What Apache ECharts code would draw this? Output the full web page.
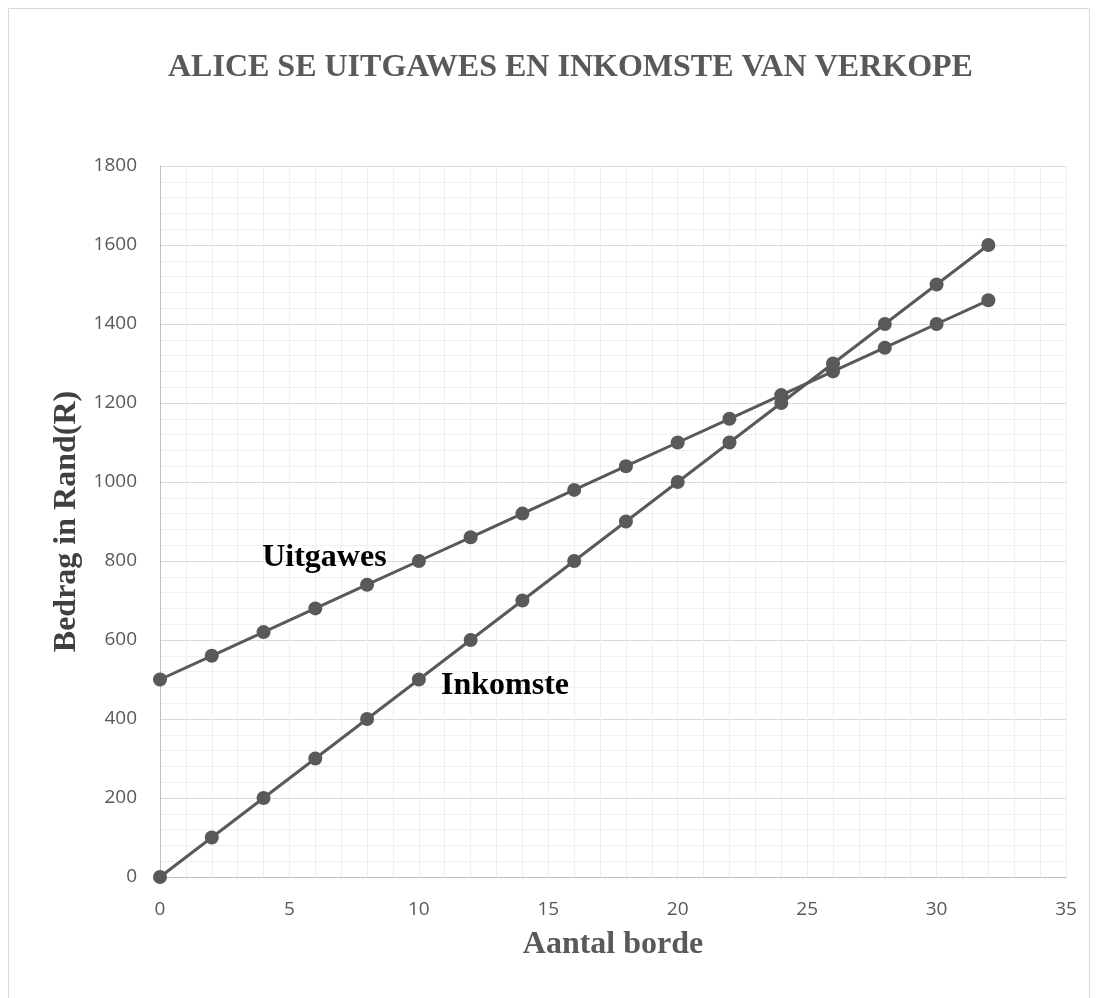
<!DOCTYPE html>
<html>
<head>
<meta charset="utf-8">
<script src="https://cdn.jsdelivr.net/npm/echarts@6/dist/echarts.min.js"></script>
<style>
html, body { margin: 0; padding: 0; background: #fff; }
#chart { width: 1097px; height: 998px; }
</style>
</head>
<body>
<div id="chart"></div>
<script>
// aantal borde (x) en bedrae in rand
const borde = [0, 2, 4, 6, 8, 10, 12, 14, 16, 18, 20, 22, 24, 26, 28, 30, 32];
const uitgawes = [500, 560, 620, 680, 740, 800, 860, 920, 980, 1040, 1100, 1160, 1220, 1280, 1340, 1400, 1460];
const inkomste = [0, 100, 200, 300, 400, 500, 600, 700, 800, 900, 1000, 1100, 1200, 1300, 1400, 1500, 1600];

const lineColor = '#595959';
const serif = '"Liberation Serif", "Times New Roman", serif';
const sans = '"Open Sans", "Noto Sans", sans-serif';

const chart = echarts.init(document.getElementById('chart'));

const makeSeries = (name, values, labelCoord) => ({
    name: name,
    type: 'line',
    data: borde.map((x, i) => [x, values[i]]),
    symbol: 'circle',
    symbolSize: 14,
    lineStyle: { color: lineColor, width: 3 },
    itemStyle: { color: lineColor },
    z: 5,
    markPoint: {
        symbol: 'circle',
        symbolSize: 0,
        silent: true,
        label: {
            show: true,
            formatter: name,
            color: '#000',
            fontFamily: serif,
            fontWeight: 'bold',
            fontSize: 32
        },
        data: [{ coord: labelCoord }]
    }
});

chart.setOption({
    backgroundColor: '#fff',
    animation: false,
    title: {
        text: 'ALICE SE UITGAWES EN INKOMSTE VAN VERKOPE',
        left: 163,
        top: 47,
        textStyle: {
            color: lineColor,
            fontFamily: serif,
            fontWeight: 'bold',
            fontSize: 32
        }
    },
    graphic: [{
        type: 'rect',
        shape: { x: 8.5, y: 8.5, width: 1081, height: 1000 },
        style: { fill: 'none', stroke: '#d9d9d9', lineWidth: 1 },
        silent: true
    }],
    grid: { left: 160, right: 31, top: 166, bottom: 121 },
    xAxis: {
        type: 'value',
        min: 0,
        max: 35,
        interval: 5,
        name: 'Aantal borde',
        nameLocation: 'middle',
        nameGap: 52,
        nameTextStyle: {
            color: lineColor,
            fontFamily: serif,
            fontWeight: 'bold',
            fontSize: 32
        },
        axisLine: { show: true, lineStyle: { color: '#bfbfbf', width: 1 } },
        axisTick: { show: false },
        axisLabel: { color: lineColor, fontFamily: sans, fontSize: 19, margin: 23 },
        splitLine: { show: true, lineStyle: { color: '#efefef', width: 1 } },
        minorTick: { show: false, splitNumber: 5 },
        minorSplitLine: { show: true, lineStyle: { color: '#efefef', width: 1 } }
    },
    yAxis: {
        type: 'value',
        min: 0,
        max: 1800,
        interval: 200,
        name: 'Bedrag in Rand(R)',
        nameLocation: 'middle',
        nameGap: 77,
        nameRotate: 90,
        nameTextStyle: {
            color: '#404040',
            fontFamily: serif,
            fontWeight: 'bold',
            fontSize: 32
        },
        axisLine: { show: true, lineStyle: { color: '#bfbfbf', width: 1 } },
        axisTick: { show: false },
        axisLabel: {
            color: lineColor,
            fontFamily: sans,
            fontSize: 19,
            margin: 23,
            formatter: (v) => String(v)
        },
        splitLine: { show: true, lineStyle: { color: '#d9d9d9', width: 1 } },
        minorTick: { show: false, splitNumber: 5 },
        minorSplitLine: { show: true, lineStyle: { color: '#f0f0f0', width: 1 } }
    },
    series: [
        makeSeries('Uitgawes', uitgawes, [6.35, 809]),
        makeSeries('Inkomste', inkomste, [13.33, 483])
    ]
});
</script>
</body>
</html>
